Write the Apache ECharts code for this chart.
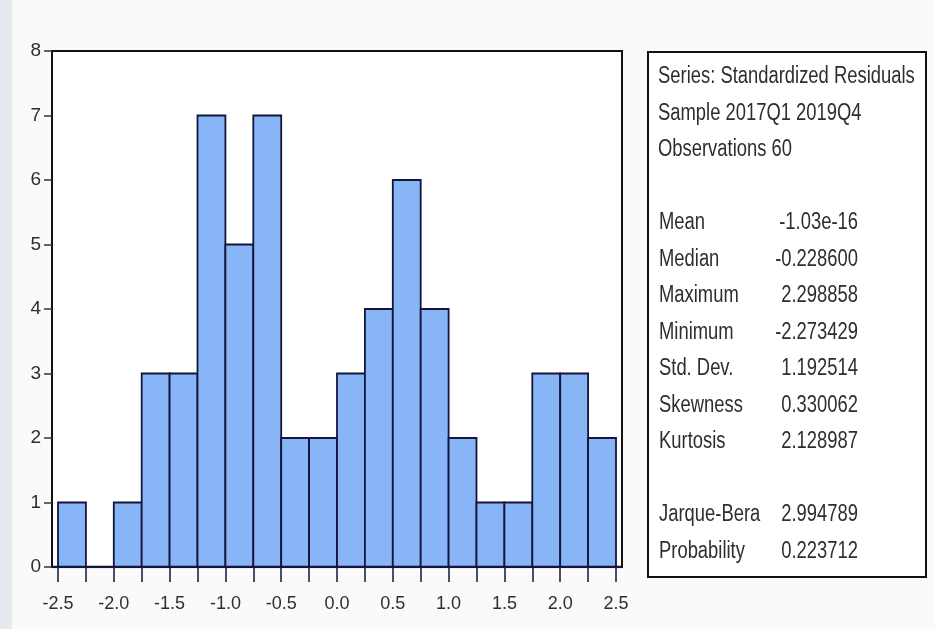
<!DOCTYPE html>
<html>
<head>
<meta charset="utf-8">
<script src="https://cdn.jsdelivr.net/npm/echarts@6/dist/echarts.min.js"></script>
<style>
  html, body { margin: 0; padding: 0; background: #fafafa; }
  #chart { width: 935px; height: 629px; }
</style>
</head>
<body>
<div id="chart"></div>
<script>
// histogram bins (edges every 0.25) and counts
const binStarts = [-2.5, -2.25, -2.0, -1.75, -1.5, -1.25, -1.0, -0.75, -0.5, -0.25,
                   0.0, 0.25, 0.5, 0.75, 1.0, 1.25, 1.5, 1.75, 2.0, 2.25];
const binWidth = 0.25;
const counts = [1, 0, 1, 3, 3, 7, 5, 7, 2, 2, 3, 4, 6, 4, 2, 1, 1, 3, 3, 2];
const yTicks = [0, 1, 2, 3, 4, 5, 6, 7, 8];

// stats box
const headerLines = ['Series: Standardized Residuals', 'Sample 2017Q1 2019Q4', 'Observations 60'];
const statLabels = ['Mean', 'Median', 'Maximum', 'Minimum', 'Std. Dev.', 'Skewness', 'Kurtosis'];
const statValues = ['-1.03e-16', '-0.228600', '2.298858', '-2.273429', '1.192514', '0.330062', '2.128987'];
const testLabels = ['Jarque-Bera', 'Probability'];
const testValues = ['2.994789', '0.223712'];

const FONT = "'Liberation Sans', Arial, sans-serif";
const TXT = '#2e2e2e';
const EDGE = '#14143c';

const chart = echarts.init(document.getElementById('chart'));

// text of the stats panel, squeezed horizontally like the original
function textEl(str, x, y, align) {
    return {
        type: 'text', x: x, y: y, scaleX: 0.8,
        style: { text: str, fill: TXT, fontSize: 23, fontFamily: FONT,
                 textAlign: align || 'left', textVerticalAlign: 'middle' }
    };
}
const panel = [];
panel.push({ type: 'rect', shape: { x: 648, y: 52, width: 278, height: 525 },
    style: { fill: '#fff', stroke: '#111', lineWidth: 2 } });
const step = 36.5;
let y = 77;
headerLines.forEach((t) => { panel.push(textEl(t, 658, y)); y += step; });
y += step;
statLabels.forEach((t, i) => {
    panel.push(textEl(t, 659, y));
    panel.push(textEl(statValues[i], 858, y, 'right'));
    y += step;
});
y += step;
testLabels.forEach((t, i) => {
    panel.push(textEl(t, 659, y));
    panel.push(textEl(testValues[i], 858, y, 'right'));
    y += step;
});

const option = {
    backgroundColor: '#fafafa',
    animation: false,
    graphic: [
        { type: 'rect', shape: { x: 0, y: 0, width: 12, height: 629 }, style: { fill: '#e6eaf0' }, z: -1 },
        ...panel
    ],
    grid: [
        // outer frame
        { left: 52, right: 313, top: 51, bottom: 62, show: true, backgroundColor: '#fff', borderColor: '#111', borderWidth: 2 },
        // data area, inset a little from the frame
        { left: 58, right: 319, top: 51, bottom: 62 }
    ],
    xAxis: [
        { gridIndex: 0, type: 'value', min: 0, max: 1, show: false },
        {
            gridIndex: 1, type: 'value', min: -2.5, max: 2.5, interval: binWidth,
            axisLine: { show: false },
            axisTick: { show: true, length: 15, lineStyle: { color: EDGE, width: 1.5 } },
            splitLine: { show: false },
            axisLabel: {
                margin: 28, color: TXT, fontSize: 18, fontFamily: FONT,
                showMinLabel: true, showMaxLabel: true,
                formatter: (v) => Math.abs(v * 2 - Math.round(v * 2)) < 1e-6 ? v.toFixed(1) : ''
            }
        }
    ],
    yAxis: [
        {
            gridIndex: 0, type: 'value', min: yTicks[0], max: yTicks[yTicks.length - 1], interval: 1,
            axisLine: { show: true, lineStyle: { color: '#111', width: 2 } },
            axisTick: { show: true, length: 8, lineStyle: { color: '#333', width: 1.5 } },
            splitLine: { show: false },
            axisLabel: { margin: 11, color: TXT, fontSize: 19, fontFamily: FONT }
        },
        { gridIndex: 1, type: 'value', min: 0, max: 8, show: false }
    ],
    series: [
        {
            type: 'custom',
            xAxisIndex: 1, yAxisIndex: 1,
            data: binStarts.map((b, i) => [b, b + binWidth, counts[i]]),
            renderItem(params, api) {
                const p0 = api.coord([api.value(0), api.value(2)]);
                const p1 = api.coord([api.value(1), 0]);
                return {
                    type: 'rect',
                    shape: { x: p0[0], y: p0[1], width: p1[0] - p0[0], height: p1[1] - p0[1] },
                    style: { fill: '#88b5f6', stroke: EDGE, lineWidth: 1.8 }
                };
            }
        },
        {
            // bottom axis line over the bars
            type: 'line', xAxisIndex: 0, yAxisIndex: 0, silent: true, symbol: 'none',
            data: [[0, 0], [1, 0]], lineStyle: { color: EDGE, width: 2.5 }
        }
    ]
};
chart.setOption(option);
</script>
</body>
</html>
